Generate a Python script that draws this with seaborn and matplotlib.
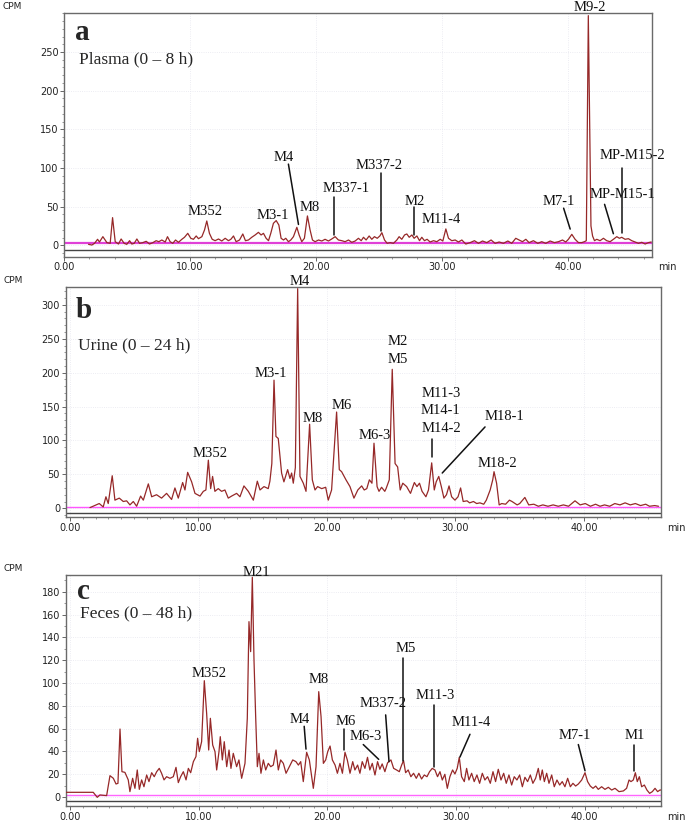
import numpy as np
import pandas as pd
import matplotlib
matplotlib.use("Agg")
import matplotlib.pyplot as plt
from matplotlib.ticker import MultipleLocator, FixedLocator, FuncFormatter
import seaborn as sns

# ---------------- data ----------------
plasma_t = [1.93, 2.2, 2.41, 2.65, 2.8, 3.07, 3.39, 3.65, 3.84, 4.05, 4.31, 4.52, 4.76, 4.97, 5.19, 5.37,
            5.56, 5.77, 5.98, 6.24, 6.51, 6.77, 7.04, 7.3, 7.51, 7.75, 8.02, 8.2, 8.41, 8.62, 8.84, 9.07,
            9.34, 9.55, 9.81, 10.05, 10.26, 10.48, 10.66, 10.93, 11.14, 11.32, 11.53, 11.75, 11.98, 12.25,
            12.51, 12.78, 13.04, 13.23, 13.44, 13.65, 13.92, 14.18, 14.39, 14.63, 14.89, 15.16, 15.42,
            15.63, 15.82, 16.03, 16.22, 16.4, 16.61, 16.83, 17.04, 17.22, 17.41, 17.59, 17.8, 17.99, 18.2,
            18.47, 18.65, 18.86, 19.07, 19.31, 19.52, 19.71, 19.92, 20.19, 20.45, 20.71, 20.98, 21.24,
            21.51, 21.77, 22.04, 22.3, 22.57, 22.83, 23.1, 23.36, 23.58, 23.76, 23.97, 24.21, 24.42, 24.63,
            24.85, 25.06, 25.22, 25.43, 25.64, 25.88, 26.14, 26.41, 26.59, 26.8, 27.02, 27.2, 27.39, 27.6,
            27.78, 28.0, 28.21, 28.39, 28.6, 28.81, 29.05, 29.32, 29.58, 29.85, 30.06, 30.3, 30.51, 30.77,
            31.04, 31.3, 31.57, 31.88, 32.23, 32.57, 32.89, 33.21, 33.55, 33.89, 34.21, 34.53, 34.87,
            35.22, 35.53, 35.85, 36.12, 36.38, 36.65, 36.91, 37.25, 37.6, 37.91, 38.23, 38.58, 38.92,
            39.24, 39.56, 39.82, 40.03, 40.3, 40.56, 40.83, 41.09, 41.3, 41.45, 41.61, 41.82, 41.95, 42.1,
            42.28, 42.54, 42.81, 43.07, 43.34, 43.6, 43.87, 44.08, 44.26, 44.53, 44.79, 45.06, 45.32,
            45.59, 45.85, 46.12, 46.38, 46.6]
plasma_cpm = [1.3, 0.4, 2.6, 7.8, 4.3, 11.2, 3.5, 2.6, 35.8, 4.7, 1.7, 8.2, 2.6, 1.3, 6, 1.7,
              2.6, 8.2, 2.6, 3.5, 5.2, 1.7, 3.5, 6, 4.7, 6.9, 4.3, 11.2, 4.7, 2.6, 6.9, 3.9,
              7.8, 10.4, 15.5, 9.1, 7.8, 12.1, 8.6, 11.2, 19.9, 31.5, 15.5, 7.8, 6, 8.2,
              5.6, 9.1, 6, 7.8, 12.1, 4.7, 6.9, 14.7, 6, 6.9, 10.4, 13.4, 16.8,
              13.4, 15.5, 9.1, 6, 15.5, 28.5, 32, 26.3, 9.1, 6.9, 9.1, 4.7, 6.9, 11.2,
              23.3, 13.4, 4.7, 9.1, 38, 19.9, 6.9, 4.7, 6.9, 5.6, 7.8, 5.6, 8.2,
              11.2, 6.9, 6, 4.7, 6.9, 3.9, 5.6, 9.1, 6, 10.4, 6.9, 12.1, 7.8, 11.2,
              9.1, 12.1, 16.4, 6.9, 2.6, 3.5, 2.6, 6.9, 11.2, 7.8, 13.4, 14.7, 10.4, 13.4,
              9.1, 12.1, 6, 10.4, 6, 7.8, 4.3, 6, 4.7, 7.8, 5.6, 21.2, 9.1, 6,
              6.9, 4.3, 6.9, 1.7, 3.5, 6, 2.6, 5.6, 3.5, 6.9, 2.6, 4.3, 2.6,
              5.6, 2.6, 9.1, 6.9, 4.7, 7.8, 3.5, 6, 2.6, 4.7, 2.6, 5.6, 3.5,
              4.7, 6.9, 4.3, 7.8, 14.2, 7.8, 3.5, 3.5, 4.7, 6, 297, 25, 12, 6,
              7.8, 6, 9.1, 6, 4.7, 7.8, 11.2, 9.1, 10.4, 7.8, 8.6, 6, 4.3,
              2.6, 3.9, 1.7, 3.5, 4.3]

urine_t = [1.56, 2.28, 2.59, 2.80, 2.98, 3.29, 3.50, 3.84, 4.15, 4.41, 4.67, 4.93, 5.19, 5.50, 5.71, 6.10,
           6.36, 6.74, 7.13, 7.52, 7.91, 8.17, 8.43, 8.77, 8.95, 9.16, 9.47, 9.73, 10.12, 10.38, 10.58,
           10.77, 10.95, 11.10, 11.28, 11.54, 11.80, 12.06, 12.32, 12.58, 12.97, 13.23, 13.54, 13.88,
           14.27, 14.58, 14.79, 15.10, 15.43, 15.56, 15.71, 15.88, 16.03, 16.21, 16.47, 16.65, 16.94,
           17.12, 17.25, 17.38, 17.54, 17.72, 17.90, 18.16, 18.37, 18.65, 18.86, 19.07, 19.27, 19.59,
           19.90, 20.10, 20.36, 20.75, 20.96, 21.14, 21.48, 21.79, 22.10, 22.4, 22.7, 22.9, 23.1, 23.3,
           23.5, 23.66, 23.9, 24.05, 24.25, 24.5, 24.6, 24.85, 25.08, 25.3, 25.5, 25.7, 25.9, 26.2, 26.5,
           26.8, 27.0, 27.2, 27.4, 27.7, 27.9, 28.15, 28.35, 28.5, 28.7, 28.9, 29.1, 29.3, 29.5, 29.7,
           29.96, 30.2, 30.4, 30.6, 30.9, 31.1, 31.4, 31.65, 31.9, 32.2, 32.4, 32.7, 32.9, 33.0, 33.2,
           33.4, 33.6, 33.9, 34.2, 34.4, 34.8, 35.0, 35.4, 35.7, 36.1, 36.45, 36.8, 37.2, 37.6, 38.0,
           38.4, 38.8, 39.3, 39.7, 40.1, 40.5, 40.9, 41.25, 41.6, 42.0, 42.4, 42.8, 43.2, 43.6, 44.0,
           44.4, 44.8, 45.1, 45.5, 45.8]
urine_cpm = [1, 7, 2, 17, 7, 48, 12, 15, 10, 11, 5, 10, 3, 18, 12, 36,
             17, 20, 15, 22, 13, 30, 15, 38, 27, 53, 39, 22, 18, 25, 27,
             71, 29, 47, 25, 29, 25, 27, 15, 18, 22, 17, 33, 25,
             12, 40, 27, 32, 29, 40, 66, 189, 106, 103, 52, 39, 57,
             44, 52, 37, 60, 324, 47, 37, 25, 124, 42, 27, 32, 29,
             31, 12, 27, 142, 57, 54, 42, 32, 15, 27, 33, 27, 29, 42,
             37, 96, 32, 25, 31, 25, 29, 42, 205, 66, 61, 27, 37, 32, 22,
             38, 32, 37, 25, 17, 27, 67, 27, 39, 47, 32, 15, 20, 33, 17,
             12, 17, 30, 10, 11, 8, 10, 7, 8, 6, 12, 27, 42, 54, 37,
             5, 7, 6, 12, 10, 5, 7, 16, 5, 6, 3, 5, 3, 5, 3,
             5, 3, 11, 5, 7, 3, 6, 3, 5, 3, 7, 5, 8, 5, 7,
             4, 6, 3, 4, 3]

feces_t = [-0.5, 1.81, 2.12, 2.33, 2.85, 3.11, 3.37, 3.58, 3.73, 3.89, 4.04, 4.27, 4.53, 4.66, 4.87, 5.05,
           5.23, 5.39, 5.57, 5.75, 5.96, 6.14, 6.35, 6.55, 6.74, 6.94, 7.12, 7.31, 7.51, 7.77, 8.03, 8.24,
           8.42, 8.6, 8.81, 9.02, 9.2, 9.38, 9.59, 9.79, 9.92, 10.05, 10.23, 10.44, 10.62, 10.78, 10.91,
           11.09, 11.27, 11.4, 11.58, 11.68, 11.84, 11.99, 12.18, 12.36, 12.51, 12.69, 12.95, 13.13,
           13.34, 13.6, 13.78, 13.91, 14.04, 14.17, 14.3, 14.43, 14.56, 14.69, 14.84, 15.03, 15.21,
           15.41, 15.6, 15.8, 16.01, 16.19, 16.37, 16.58, 16.79, 17.05, 17.31, 17.56, 17.75, 17.93,
           18.13, 18.39, 18.6, 18.78, 18.91, 19.12, 19.33, 19.51, 19.69, 19.87, 20.03, 20.21, 20.39,
           20.6, 20.78, 20.98, 21.17, 21.37, 21.55, 21.76, 21.97, 22.14, 22.35, 22.53, 22.71, 22.92,
           23.12, 23.3, 23.49, 23.7, 23.9, 24.08, 24.26, 24.47, 24.68, 24.94, 25.15, 25.38, 25.59,
           25.77, 25.92, 26.08, 26.28, 26.49, 26.7, 26.91, 27.11, 27.32, 27.53, 27.74, 27.94, 28.15,
           28.36, 28.56, 28.75, 28.93, 29.13, 29.32, 29.52, 29.73, 29.91, 30.09, 30.25, 30.43, 30.64,
           30.82, 31.0, 31.21, 31.41, 31.62, 31.83, 32.04, 32.24, 32.45, 32.66, 32.87, 33.07, 33.28,
           33.49, 33.7, 33.9, 34.11, 34.32, 34.52, 34.73, 34.94, 35.15, 35.35, 35.56, 35.77, 35.97,
           36.18, 36.39, 36.54, 36.7, 36.86, 37.04, 37.22, 37.43, 37.63, 37.84, 38.05, 38.25, 38.46,
           38.67, 38.88, 39.08, 39.29, 39.5, 39.76, 40.02, 40.22, 40.43, 40.64, 40.85, 41.05, 41.31,
           41.57, 41.83, 42.09, 42.35, 42.66, 43.0, 43.25, 43.44, 43.59, 43.77, 43.93, 44.08, 44.24,
           44.42, 44.63, 44.83, 45.04, 45.25, 45.46, 45.66, 45.84, 46.1]
feces_cpm = [4.1, 4.1, -0.3, 1.8, 1.2, 18.7, 16.4, 11.4, 12, 59.6, 22.2, 21.6, 15, 4.7, 16.4, 7.6,
             23.7, 6.7, 15, 9, 19.3, 13.5, 21.3, 17.8, 22.2, 25.1, 20.8, 15, 17.8, 16.4, 17.8, 26,
             12.6, 17.8, 22.2, 15, 25.1, 21.3, 31, 35.4, 51.5, 39.8, 48.5, 102, 73.4, 41.2, 69,
             45.6, 39.8, 23.7, 39.8, 52.9, 32.5, 48.5, 26.6, 41.2, 25.1, 38.3, 26.6, 32.5,
             16.4, 29.5, 69, 153.8, 127.5, 192.7, 120, 70.5, 26.6, 38.3, 20.8, 32.5, 23.7,
             29.5, 26.6, 28, 41.2, 23.7, 32.5, 29.5, 20.8, 26.6, 32.5, 31, 28, 31,
             13.5, 39.2, 32.5, 17.8, 7.6, 26.6, 92.4, 70.5, 29.5, 32.5, 39.8, 44.7, 32.5,
             28, 20.8, 29.5, 20.8, 39.2, 32.5, 20.8, 31, 23.7, 28, 20.8, 31, 25.1,
             34.8, 23.7, 29.5, 19.3, 31, 24.3, 29, 22.2, 30, 32.5, 25.1, 23.7, 22.2,
             28, 31.9, 21.3, 23.7, 17.8, 20.8, 16.4, 20.8, 15.8, 19.3, 17.8, 22.2, 25.1,
             23.7, 17.8, 22.2, 14.9, 19.9, 7.6, 17.8, 23.7, 20.2, 25.1, 34.8, 17.8, 13.5,
             25.1, 14.9, 20.8, 13.5, 19.3, 12, 20.8, 14.9, 17.8, 12, 22.2, 13.5, 24.3,
             14.9, 20.8, 12, 19.3, 10.5, 17.8, 14.9, 19.3, 9, 17.3, 13.5, 19.3, 12,
             16.4, 25.1, 14.9, 23.7, 13.5, 20.8, 12, 19.3, 9, 14.9, 10.5, 13.5, 9,
             16.4, 9, 12, 9.6, 11.4, 14.9, 21.3, 13.5, 9.6, 7.6, 9.6, 6.7, 9,
             6.7, 8.5, 6.1, 7.6, 4.7, 5.3, 7.6, 14.9, 13.5, 14.9, 21.3, 13.5, 17.8,
             9, 10.5, 6.1, 3.2, 4.7, 7.6, 4.7, 6.1, 6.1]

panel_letters = ["a", "b", "c"]
panel_titles = ["Plasma (0 \u2013 8 h)", "Urine (0 \u2013 24 h)", "Feces (0 \u2013 48 h)"]
x_tick_values = [0, 10, 20, 30, 40]

# annotation labels: (text, x, y)
plasma_labels = [("M352", 11.22, 44), ("M3-1", 16.55, 39), ("M4", 17.46, 113), ("M8", 19.5, 49),
                 ("M337-1", 22.38, 73), ("M337-2", 25.0, 103), ("M2", 27.86, 57), ("M11-4", 29.94, 34),
                 ("M7-1", 39.23, 57), ("M9-2", 41.73, 307), ("MP-M15-1", 44.3, 66), ("MP-M15-2", 45.1, 116)]
plasma_leaders = [((17.8, 105), (18.6, 27)), ((21.44, 63), (21.44, 13)), ((25.19, 93), (25.19, 19)),
                  ((27.79, 50), (27.79, 13)), ((39.65, 48), (40.17, 21)), ((42.9, 53), (43.6, 15)),
                  ((44.3, 100), (44.3, 16))]
urine_labels = [("M352", 10.9, 81), ("M3-1", 15.64, 199), ("M4", 17.85, 334), ("M8", 18.88, 133),
                ("M6", 21.14, 151), ("M6-3", 23.7, 108), ("M2", 25.5, 246), ("M5", 25.5, 219),
                ("M11-3", 28.87, 170), ("M14-1", 28.87, 144), ("M14-2", 28.87, 118),
                ("M18-1", 33.85, 135), ("M18-2", 33.28, 66)]
urine_leaders = [((28.15, 102), (28.15, 75)), ((32.3, 120), (28.97, 52))]
feces_labels = [("M352", 10.8, 108), ("M21", 14.45, 197), ("M4", 17.87, 68), ("M8", 19.3, 103),
                ("M6", 21.45, 66), ("M6-3", 23.0, 53), ("M337-2", 24.34, 82), ("M5", 26.06, 130),
                ("M11-3", 28.36, 89), ("M11-4", 31.21, 65), ("M7-1", 39.24, 54), ("M1", 43.9, 54)]
feces_leaders = [((18.2, 62), (18.34, 42)), ((21.31, 60), (21.31, 41)), ((22.79, 46), (23.99, 33)),
                 ((24.53, 72), (24.79, 31)), ((25.86, 122), (25.86, 32)), ((28.31, 81), (28.31, 26)),
                 ((31.08, 55), (30.3, 35)), ((39.5, 46), (40.02, 23)), ((43.85, 46), (43.85, 23))]

# ---------------- style ----------------
sns.set_style("white")
plt.rcParams["font.family"] = ["DejaVu Sans"]
SERIF = ["Liberation Serif", "DejaVu Serif"]
TRACE = "#962828"

W, H = 685, 821
fig = plt.figure(figsize=(W / 100, H / 100), dpi=100)

def frac_rect(l, r, t, b):
    return [l / W, 1 - b / H, (r - l) / W, (b - t) / H]

panels = [
    dict(rect=frac_rect(64.2, 651.8, 13.3, 256.7), xlim=(0.0, 46.65), ylim=(-14.7, 300),
         yticks=np.arange(0, 251, 50), ymin=10, xmin=2, magenta=2.5, black=-6.1,
         t=plasma_t, c=plasma_cpm, labels=plasma_labels, leaders=plasma_leaders,
         letter=(0.018, 0.89), title=(0.0245, 0.795), mag_lw=1.6, mag_col="#e040d8",
         hpx=243.4),
    dict(rect=frac_rect(65.7, 660.7, 287.3, 517.3), xlim=(-0.33, 45.97), ylim=(-13.3, 326),
         yticks=np.arange(0, 301, 50), ymin=10, xmin=1, magenta=1.5, black=-6.5,
         t=urine_t, c=urine_cpm, labels=urine_labels, leaders=urine_leaders,
         letter=(0.0173, 0.865), title=(0.0212, 0.73), mag_lw=1.0, mag_col="#ff55ff",
         hpx=230.0),
    dict(rect=frac_rect(65.7, 660.7, 575, 806), xlim=(-0.33, 45.9), ylim=(-7.9, 194.7),
         yticks=np.arange(0, 181, 20), ymin=10, xmin=1, magenta=1.8, black=-3.2,
         t=feces_t, c=feces_cpm, labels=feces_labels, leaders=feces_leaders,
         letter=(0.0185, 0.895), title=(0.024, 0.817), mag_lw=1.0, mag_col="#ff66ff",
         hpx=231.0),
]

for i, p in enumerate(panels):
    ax = fig.add_axes(p["rect"])
    ax.set_xlim(*p["xlim"])
    ax.set_ylim(*p["ylim"])
    # faint grid
    for yv in p["yticks"]:
        ax.axhline(yv, color="#e6e6ee", lw=0.6, ls=":", zorder=0)
    for xv in x_tick_values:
        ax.axvline(xv, color="#e6e6ee", lw=0.6, ls=":", zorder=0)
    # reference lines
    ax.axhline(p["black"], color="#444444", lw=1.0, zorder=1)
    ax.axhline(p["magenta"], color=p["mag_col"], lw=p["mag_lw"], zorder=2)
    df = pd.DataFrame({"t": p["t"], "cpm": p["c"]})
    sns.lineplot(data=df, x="t", y="cpm", ax=ax, color=TRACE, lw=0.9,
                 estimator=None, sort=False, zorder=3, legend=False)
    ax.set_xlabel("")
    ax.set_ylabel("")
    ax.xaxis.set_major_locator(FixedLocator(x_tick_values))
    ax.xaxis.set_minor_locator(MultipleLocator(p["xmin"]))
    ax.xaxis.set_major_formatter(FuncFormatter(lambda v, pos: f"{v:.2f}"))
    ax.yaxis.set_major_locator(FixedLocator(list(p["yticks"])))
    ax.yaxis.set_minor_locator(MultipleLocator(p["ymin"]))
    ax.tick_params(axis="both", which="major", direction="out", length=2.6, width=0.7,
                   color="#666666", labelsize=7, labelcolor="#222222", pad=1.5)
    ax.tick_params(axis="both", which="minor", direction="out", length=1.6, width=0.6,
                   color="#888888")
    ax.tick_params(axis="x", which="both", bottom=True)
    ax.tick_params(axis="y", which="both", left=True)
    for s in ax.spines.values():
        s.set_color("#6a6a6a")
        s.set_linewidth(1.0)
    # CPM / min labels
    ax.text(-0.105, 1.028, "CPM", transform=ax.transAxes, fontsize=6.5, color="#222222",
            ha="left", va="center")
    ax.text(1.01, -10.5 / p["hpx"], "min", transform=ax.transAxes, fontsize=7, color="#222222",
            ha="left", va="center")
    # panel letter and title
    ax.text(p["letter"][0], p["letter"][1], panel_letters[i], transform=ax.transAxes,
            family=SERIF, fontweight="bold", fontsize=21, ha="left", va="baseline")
    ax.text(p["title"][0], p["title"][1], panel_titles[i], transform=ax.transAxes,
            family=SERIF, fontsize=12.5, ha="left", va="baseline")
    for txt, x, y in p["labels"]:
        ax.text(x, y, txt, family=SERIF, fontsize=10.5, ha="center", va="center",
                color="#111111", zorder=5)
    for (x0, y0), (x1, y1) in p["leaders"]:
        ax.plot([x0, x1], [y0, y1], color="#111111", lw=1.1, zorder=4)

fig.savefig("out.png", dpi=100)
